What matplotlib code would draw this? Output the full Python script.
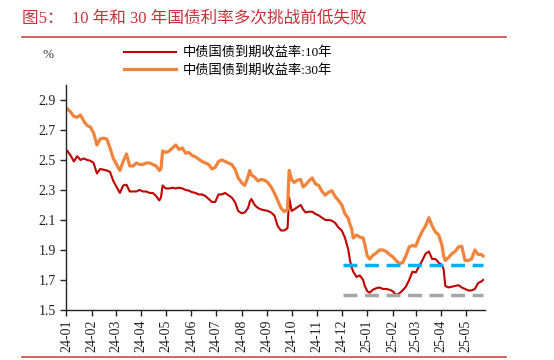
import matplotlib
matplotlib.use("Agg")
import matplotlib.pyplot as plt
import matplotlib.dates as mdates
from matplotlib.lines import Line2D
import pandas as pd
import numpy as np

plt.rcParams['font.family'] = ['Liberation Serif', 'Noto Sans CJK SC', 'DejaVu Sans']

title = "图5：  10 年和 30 年国债利率多次挑战前低失败"
label_10y = "中债国债到期收益率:10年"
label_30y = "中债国债到期收益率:30年"
unit_label = "%"

dates = [
    "2024-01-02", "2024-01-06", "2024-01-10", "2024-01-14", "2024-01-18", "2024-01-22", "2024-01-26", "2024-01-30",
    "2024-02-03", "2024-02-07", "2024-02-11", "2024-02-15", "2024-02-19", "2024-02-23", "2024-02-27",
    "2024-03-02", "2024-03-06", "2024-03-10", "2024-03-14", "2024-03-18", "2024-03-22", "2024-03-26", "2024-03-30",
    "2024-04-03", "2024-04-07", "2024-04-11", "2024-04-15", "2024-04-19", "2024-04-23", "2024-04-25", "2024-04-27",
    "2024-05-01", "2024-05-05", "2024-05-09", "2024-05-13", "2024-05-17", "2024-05-21", "2024-05-25", "2024-05-29",
    "2024-06-02", "2024-06-06", "2024-06-10", "2024-06-14", "2024-06-18", "2024-06-22", "2024-06-26", "2024-06-30",
    "2024-07-04", "2024-07-08", "2024-07-12", "2024-07-16", "2024-07-20", "2024-07-24", "2024-07-28",
    "2024-08-01", "2024-08-05", "2024-08-09", "2024-08-11", "2024-08-13", "2024-08-17", "2024-08-21", "2024-08-25", "2024-08-29",
    "2024-09-02", "2024-09-06", "2024-09-10", "2024-09-14", "2024-09-18", "2024-09-22", "2024-09-26", "2024-09-28",
    "2024-10-01", "2024-10-04", "2024-10-08", "2024-10-12", "2024-10-15", "2024-10-18", "2024-10-22", "2024-10-26", "2024-10-30",
    "2024-11-03", "2024-11-07", "2024-11-11", "2024-11-15", "2024-11-19", "2024-11-23", "2024-11-27",
    "2024-12-01", "2024-12-05", "2024-12-09", "2024-12-11", "2024-12-13", "2024-12-15", "2024-12-19", "2024-12-23", "2024-12-27", "2024-12-29",
    "2025-01-01", "2025-01-04", "2025-01-08", "2025-01-12", "2025-01-16", "2025-01-20", "2025-01-24", "2025-01-28",
    "2025-02-01", "2025-02-05", "2025-02-09", "2025-02-13", "2025-02-17", "2025-02-21", "2025-02-25",
    "2025-03-01", "2025-03-05", "2025-03-09", "2025-03-13", "2025-03-17", "2025-03-21", "2025-03-25", "2025-03-29",
    "2025-04-02", "2025-04-04", "2025-04-06", "2025-04-10", "2025-04-14", "2025-04-18", "2025-04-22", "2025-04-26", "2025-04-30",
    "2025-05-04", "2025-05-08", "2025-05-12", "2025-05-16", "2025-05-20", "2025-05-22",
]

yield_30y = [
    2.84, 2.82, 2.79, 2.785, 2.80, 2.76, 2.73, 2.72,
    2.68, 2.60, 2.64, 2.645, 2.64, 2.58, 2.51,
    2.47, 2.43, 2.49, 2.54, 2.46, 2.46, 2.48, 2.47,
    2.47, 2.48, 2.48, 2.47, 2.46, 2.43, 2.44, 2.56,
    2.55, 2.56, 2.58, 2.60, 2.57, 2.58, 2.545, 2.55,
    2.53, 2.52, 2.505, 2.49, 2.48, 2.47, 2.44, 2.45,
    2.49, 2.50, 2.49, 2.48, 2.47, 2.44, 2.38,
    2.35, 2.33, 2.39, 2.43, 2.40, 2.385, 2.36, 2.37, 2.365,
    2.35, 2.32, 2.28, 2.23, 2.18, 2.155, 2.17, 2.43,
    2.37, 2.35, 2.365, 2.37, 2.32, 2.335, 2.36, 2.38, 2.34,
    2.33, 2.29, 2.265, 2.285, 2.295, 2.255, 2.23,
    2.20, 2.14, 2.11, 2.07, 2.04, 1.98, 2.00, 1.985, 1.98, 1.94,
    1.86, 1.84, 1.865, 1.88, 1.90, 1.90, 1.89, 1.87,
    1.855, 1.83, 1.81, 1.815, 1.86, 1.92, 1.93,
    1.925, 1.98, 2.025, 2.06, 2.115, 2.06, 2.02, 2.00,
    1.93, 1.86, 1.83, 1.85, 1.875, 1.89, 1.92, 1.925, 1.83,
    1.83, 1.84, 1.90, 1.87, 1.87, 1.86,
]

yield_10y = [
    2.56, 2.53, 2.49, 2.525, 2.50, 2.51, 2.50, 2.495,
    2.48, 2.41, 2.44, 2.435, 2.43, 2.42, 2.36,
    2.32, 2.28, 2.33, 2.335, 2.29, 2.29, 2.29, 2.30,
    2.29, 2.29, 2.28, 2.28, 2.26, 2.23, 2.25, 2.33,
    2.31, 2.31, 2.315, 2.31, 2.315, 2.31, 2.30, 2.295,
    2.285, 2.28, 2.27, 2.27, 2.26, 2.24, 2.22, 2.22,
    2.27, 2.27, 2.28, 2.265, 2.25, 2.22, 2.16,
    2.145, 2.15, 2.18, 2.22, 2.24, 2.20, 2.18, 2.17, 2.165,
    2.16, 2.15, 2.13, 2.06, 2.03, 2.03, 2.045, 2.25,
    2.16, 2.17, 2.185, 2.20, 2.17, 2.15, 2.155, 2.155, 2.14,
    2.13, 2.115, 2.10, 2.10, 2.095, 2.08, 2.05,
    2.03, 1.98, 1.90, 1.83, 1.785, 1.755, 1.72, 1.73, 1.70, 1.66,
    1.625, 1.615, 1.635, 1.645, 1.65, 1.64, 1.64, 1.635,
    1.625, 1.60, 1.61, 1.63, 1.655, 1.70, 1.755,
    1.75, 1.79, 1.83, 1.875, 1.89, 1.84, 1.84, 1.815,
    1.80, 1.77, 1.66, 1.65, 1.655, 1.66, 1.665, 1.65, 1.64,
    1.63, 1.63, 1.64, 1.68, 1.69, 1.70,
]

support_levels = [1.8, 1.6]
support_colors = ["#00B0F0", "#A6A6A6"]
support_start = "2024-12-02"
support_end = "2025-05-22"

yticks = [1.5, 1.7, 1.9, 2.1, 2.3, 2.5, 2.7, 2.9]
xtick_months = pd.date_range("2024-01-01", "2025-05-01", freq="MS")

x = pd.to_datetime(dates)

fig = plt.figure(figsize=(5.54, 3.60), dpi=100)
ax = fig.add_axes([0.120, 0.139, 0.755, 0.625])

l10, = ax.plot(x, yield_10y, color="#C00000", lw=1.5, zorder=2)
l30, = ax.plot(x, yield_30y, color="#F0843C", lw=2.3, zorder=2)

for lvl, c in zip(support_levels, support_colors):
    ax.plot(pd.to_datetime([support_start, support_end]), [lvl, lvl], color=c,
            lw=2.5, dashes=(4, 2.2), zorder=3)

ax.set_ylim(1.5, 3.0)
ax.set_yticks(yticks)
ax.set_yticklabels([f"{v:.1f}" for v in yticks])
ax.set_xlim(pd.Timestamp("2024-01-01"), pd.Timestamp("2025-05-24"))
ax.set_xticks(xtick_months)
ax.xaxis.set_major_formatter(mdates.DateFormatter("%y-%m"))
for lab in ax.get_xticklabels():
    lab.set_rotation(90)

ax.tick_params(axis="both", labelsize=10, colors="#222222", direction="out", length=4, width=1)
ax.tick_params(axis="x", pad=3)
for s in ["top", "right"]:
    ax.spines[s].set_visible(False)
for s in ["left", "bottom"]:
    ax.spines[s].set_color("#222222")
    ax.spines[s].set_linewidth(1.0)

# title and decorative rules
fig.text(0.040, 0.948, title, color="#C8323A", fontsize=12, ha="left", va="center")
fig.add_artist(Line2D([0.040, 0.913], [0.897, 0.897], color="#D04848", lw=1.2))
fig.add_artist(Line2D([0.040, 0.913], [0.008, 0.008], color="#D04848", lw=1.2))

fig.text(0.076, 0.846, unit_label, fontsize=9.5, color="#333333", ha="left", va="center")

fig.legend([l10, l30], [label_10y, label_30y], loc="upper left",
           bbox_to_anchor=(0.215, 0.885), frameon=False, fontsize=9.5,
           handlelength=3.9, handletextpad=0.5, labelspacing=0.35, borderaxespad=0)

fig.savefig("out.png", dpi=100)
